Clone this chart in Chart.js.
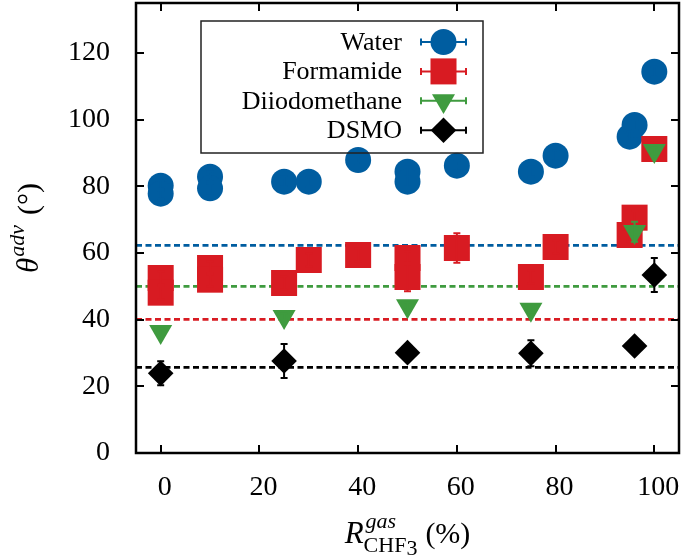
<!DOCTYPE html>
<html>
<head>
<meta charset="utf-8">
<script src="https://cdn.jsdelivr.net/npm/chart.js@4"></script>
<style>
  html, body { margin: 0; padding: 0; background: #fff; }
</style>
</head>
<body>
<canvas id="chart" width="683" height="558"></canvas>
<script>
// ── Data ──────────────────────────────────────────────────────────────────
const xTicks = [0, 20, 40, 60, 80, 100];
const yTicks = [0, 20, 40, 60, 80, 100, 120];

const waterX   = [0, 0, 10, 10, 25, 30, 40, 50, 50, 60, 75, 80, 95, 96, 100];
const waterY   = [80.2, 77.8, 82.9, 79.4, 81.4, 81.4, 87.9, 84.4, 81.4, 86.2, 84.4, 89.2, 94.9, 98.4, 114.4];
const waterErr = [1.5, 1.5, 1.5, 1.5, 1.5, 1.5, 1.5, 1.5, 1.5, 1.5, 1.5, 1.5, 1.5, 1.5, 1.5];

const formX    = [0, 0, 10, 10, 25, 30, 40, 50, 50, 60, 75, 80, 95, 96, 100];
const formY    = [52.5, 48.1, 55.5, 52.0, 51.0, 57.9, 59.4, 58.5, 52.8, 61.5, 52.8, 61.8, 65.4, 70.6, 91.2];
const formErr  = [2, 2, 2, 2, 2, 2, 2, 2, 4.3, 4.4, 2, 2, 2, 2, 2];

const diioX    = [0, 25, 50, 75, 96, 100];
const diioY    = [36.4, 40.9, 44.1, 43.1, 66.4, 90.7];
const diioErr  = [1, 1, 1, 1, 3, 1];

const dsmoX    = [0, 25, 50, 75, 96, 100];
const dsmoY    = [23.9, 27.6, 30.1, 29.9, 32.1, 53.4];
const dsmoErr  = [3.6, 5.1, 2.0, 3.9, 0.5, 5.1];

// horizontal reference levels (dashed)
const refLevels = [62.3, 40.1, 50.0, 25.7];
const refColors = ['#005da0', '#d81b22', '#3f9b3f', '#000000'];

const seriesNames = ['Water', 'Formamide', 'Diiodomethane', 'DSMO'];

// ── Helpers ───────────────────────────────────────────────────────────────
const C = { blue: '#005da0', red: '#d81b22', green: '#3f9b3f', black: '#000000' };
const SERIF = "'Liberation Serif', 'DejaVu Serif', serif";
const pts = (xs, ys) => xs.map((x, i) => ({ x, y: ys[i] }));

const markers = [
  { pointStyle: 'circle',   radius: 13,   rotation: 0,   color: C.blue  },
  { pointStyle: 'rect',     radius: 18.4, rotation: 0,   color: C.red   },
  { pointStyle: 'triangle', radius: 13.3, rotation: 180, color: C.green },
  { pointStyle: 'rectRot',  radius: 12.8, rotation: 0,   color: C.black },
];

// lower order = drawn later (on top); later series sit on top like gnuplot
function scatterSet(label, xs, ys, err, m, order) {
  return {
    type: 'scatter', label, data: pts(xs, ys), err, order,
    pointStyle: m.pointStyle, pointRadius: m.radius, pointRotation: m.rotation,
    pointHoverRadius: m.radius,
    backgroundColor: m.color, borderColor: m.color, borderWidth: 0,
  };
}

const refSets = refLevels.map((v, i) => ({
  type: 'line', label: 'ref' + i,
  data: [{ x: -5, y: v }, { x: 105, y: v }],
  borderColor: refColors[i], borderWidth: 2.8, borderDash: [6, 3.5],
  pointRadius: 0, fill: false, order: 10,
}));

// ── Plugins ───────────────────────────────────────────────────────────────
const errorBars = {
  id: 'errorBars',
  afterDatasetDraw(chart, args) {
    const ds = chart.data.datasets[args.index];
    if (!ds.err) return;
    const { ctx, scales: { x, y } } = chart;
    ctx.save();
    ctx.strokeStyle = ds.borderColor; ctx.lineWidth = 2;
    ctx.beginPath();
    ds.data.forEach((p, i) => {
      const e = ds.err[i]; if (!e) return;
      const px = x.getPixelForValue(p.x);
      const y1 = y.getPixelForValue(p.y - e), y2 = y.getPixelForValue(p.y + e);
      ctx.moveTo(px, y1); ctx.lineTo(px, y2);
      ctx.moveTo(px - 3.5, y1); ctx.lineTo(px + 3.5, y1);
      ctx.moveTo(px - 3.5, y2); ctx.lineTo(px + 3.5, y2);
    });
    ctx.stroke();
    ctx.restore();
  }
};

const frame = {
  id: 'frame',
  afterDraw(chart) {
    const { ctx, chartArea: a, scales: { x, y } } = chart;
    ctx.save();
    ctx.strokeStyle = '#000';
    ctx.lineWidth = 2;
    ctx.beginPath();
    xTicks.forEach(v => {
      const p = Math.round(x.getPixelForValue(v));
      ctx.moveTo(p, a.bottom); ctx.lineTo(p, a.bottom - 8);
      ctx.moveTo(p, a.top);    ctx.lineTo(p, a.top + 8);
    });
    yTicks.forEach(v => {
      const p = Math.round(y.getPixelForValue(v));
      ctx.moveTo(a.left, p);  ctx.lineTo(a.left + 8, p);
      ctx.moveTo(a.right, p); ctx.lineTo(a.right - 8, p);
    });
    ctx.stroke();
    ctx.lineWidth = 2.5;
    ctx.strokeRect(a.left, a.top, a.right - a.left, a.bottom - a.top);

    // legend
    const bx = 201, by = 21, bw = 282, bh = 132;
    ctx.lineWidth = 1.5; ctx.strokeStyle = '#222';
    ctx.strokeRect(bx, by, bw, bh);
    ctx.font = '26px ' + SERIF;
    ctx.fillStyle = '#000'; ctx.textAlign = 'right'; ctx.textBaseline = 'alphabetic';
    seriesNames.forEach((name, i) => {
      const ry = 42 + i * 29.4;
      ctx.fillStyle = '#000';
      ctx.fillText(name, 402, ry + 8);
      const m = markers[i];
      ctx.strokeStyle = m.color; ctx.lineWidth = 2;
      ctx.beginPath();
      ctx.moveTo(421, ry); ctx.lineTo(466, ry);
      ctx.moveTo(421, ry - 3.5); ctx.lineTo(421, ry + 3.5);
      ctx.moveTo(466, ry - 3.5); ctx.lineTo(466, ry + 3.5);
      ctx.stroke();
      ctx.fillStyle = m.color;
      Chart.helpers.drawPoint(ctx, { pointStyle: m.pointStyle, radius: m.radius, rotation: m.rotation, borderWidth: 0 }, 443.5, ry);
    });

    // x axis title: R^{gas}_{CHF3} (%)
    ctx.fillStyle = '#000'; ctx.textAlign = 'left'; ctx.textBaseline = 'alphabetic';
    const base = 543;
    const fR = 'italic 31px ' + SERIF, fSup = 'italic 22px ' + SERIF,
          fSub = '22px ' + SERIF, fSub2 = '16px ' + SERIF, fMain = '30px ' + SERIF;
    const w = (t, f) => { ctx.font = f; return ctx.measureText(t).width; };
    const wR = w('R', fR), wSup = w('gas', fSup), wSub = w('CHF', fSub) + w('3', fSub2);
    const wMid = Math.max(wSup + 2, wSub + 1), wPar = w('(%)', fMain);
    const total = wR + wMid + 10 + wPar;
    let cx = (a.left + a.right) / 2 - total / 2;
    ctx.font = fR; ctx.fillText('R', cx, base);
    cx += wR;
    ctx.font = fSup; ctx.fillText('gas', cx + 2, base - 15);
    ctx.font = fSub; ctx.fillText('CHF', cx, base + 9);
    ctx.font = fSub2; ctx.fillText('3', cx + w('CHF', fSub), base + 12);
    cx += wMid + 10;
    ctx.font = fMain; ctx.fillText('(%)', cx, base);

    // y axis title: theta^{adv} (deg)
    ctx.save();
    ctx.translate(38, (a.top + a.bottom) / 2);
    ctx.rotate(-Math.PI / 2);
    const wT = w('θ', fR), wA = w('adv', fSup), wD = w('(°)', fMain);
    const tot2 = wT + wA + 11 + wD;
    let ty = -tot2 / 2;
    ctx.font = fR; ctx.fillText('θ', ty, 0);
    ty += wT + 1;
    ctx.font = fSup; ctx.fillText('adv', ty, -14);
    ty += wA + 10;
    ctx.font = fMain; ctx.fillText('(°)', ty, 0);
    ctx.restore();

    ctx.restore();
  }
};

// ── Chart ─────────────────────────────────────────────────────────────────
Chart.defaults.font.family = SERIF;
Chart.defaults.color = '#000';

new Chart(document.getElementById('chart'), {
  type: 'scatter',
  data: {
    datasets: [
      scatterSet('Water', waterX, waterY, waterErr, markers[0], 4),
      scatterSet('Formamide', formX, formY, formErr, markers[1], 3),
      scatterSet('Diiodomethane', diioX, diioY, diioErr, markers[2], 2),
      scatterSet('DSMO', dsmoX, dsmoY, dsmoErr, markers[3], 1),
      ...refSets,
    ]
  },
  options: {
    responsive: false, animation: false,
    layout: { autoPadding: false, padding: { top: 3, right: 4, left: 0, bottom: 0 } },
    plugins: { legend: { display: false }, tooltip: { enabled: false } },
    scales: {
      x: {
        type: 'linear', min: -5, max: 105,
        afterBuildTicks: s => { s.ticks = xTicks.map(v => ({ value: v })); },
        afterFit: s => { s.height = 105; s.paddingLeft = 0; s.paddingRight = 0; },
        grid: { display: false }, border: { display: false },
        ticks: { padding: 10, labelOffset: 4, maxRotation: 0, font: { size: 28 }, color: '#000' },
      },
      y: {
        type: 'linear', min: 0, max: 135,
        afterBuildTicks: s => { s.ticks = yTicks.map(v => ({ value: v })); },
        afterFit: s => { s.width = 136; s.paddingTop = 0; s.paddingBottom = 0; },
        grid: { display: false }, border: { display: false },
        ticks: { padding: 18, font: { size: 28 }, color: '#000' },
      }
    }
  },
  plugins: [errorBars, frame]
});
</script>
</body>
</html>
